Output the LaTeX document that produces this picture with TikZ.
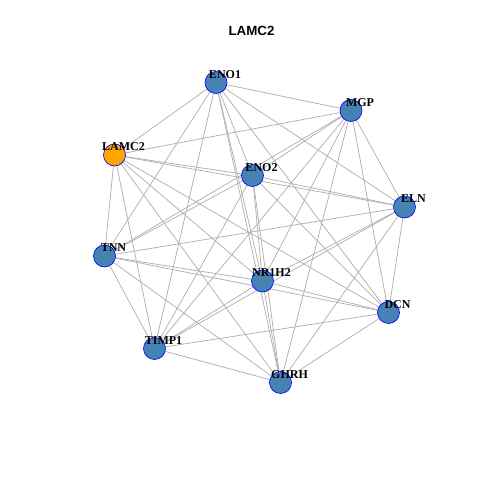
\documentclass[tikz,border=0pt]{standalone}
\usepackage{fontspec}
\setmainfont{Liberation Serif}
\newfontfamily\titlefont{Liberation Sans}
\definecolor{GeneBlue}  {RGB}{70,130,180}
\definecolor{GeneOrange}{RGB}{255,165,0}
\definecolor{EdgeGray}  {RGB}{175,175,175}
\usetikzlibrary{backgrounds}

\begin{document}
\begin{tikzpicture}[x=0.75pt,y=-0.75pt,
    gene/.style={circle,draw=blue,fill=GeneBlue,line width=0.5pt,
                 minimum size=16.5pt,inner sep=0pt},
    genelbl/.style={font=\fontsize{9}{9}\selectfont\bfseries,inner sep=0pt},
    link/.style={EdgeGray,line width=0.55pt}]
  \useasboundingbox (0,0) rectangle (480,480);
  \node[font=\titlefont\fontsize{10}{10}\selectfont\bfseries] (title)
    at (251.5,30.5) {LAMC2};
  % genes
  \node[gene] (ENO1)  at (216,82.5)  {};
  \node[gene] (MGP)   at (351,110.5) {};
  \node[gene,fill=GeneOrange] (LAMC2) at (114.5,155) {};
  \node[gene] (ENO2)  at (252.5,175.5) {};
  \node[gene] (ELN)   at (404.5,207) {};
  \node[gene] (TNN)   at (104.5,256) {};
  \node[gene] (NR1H2) at (262.5,281) {};
  \node[gene] (DCN)   at (388.5,312.5) {};
  \node[gene] (TIMP1) at (154.5,348.5) {};
  \node[gene] (GHRH)  at (280.5,382.5) {};
  \foreach \g in {ENO1,MGP,LAMC2,ENO2,ELN,TNN,NR1H2,DCN,TIMP1,GHRH}
    \node[genelbl] (\g-lbl) at ([shift={(9,-8)}]\g.center) {\g};
  % every pair is linked
  \begin{scope}[on background layer]
    \foreach \a [count=\i] in {ENO1,MGP,LAMC2,ENO2,ELN,TNN,NR1H2,DCN,TIMP1,GHRH}
      \foreach \b [count=\j] in {ENO1,MGP,LAMC2,ENO2,ELN,TNN,NR1H2,DCN,TIMP1,GHRH}
        {\ifnum\i<\j \draw[link] (\a.center) -- (\b.center); \fi}
  \end{scope}
\end{tikzpicture}
\end{document}
